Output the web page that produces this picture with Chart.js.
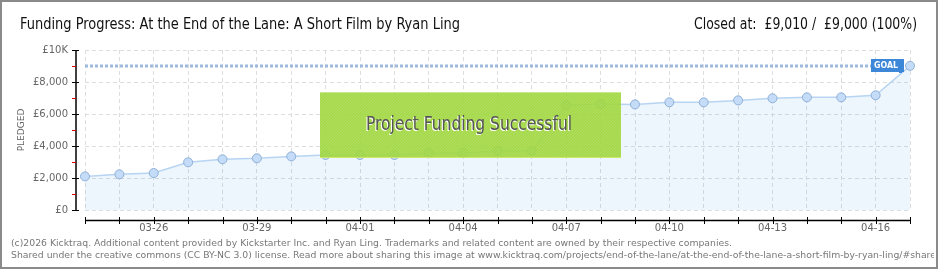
<!DOCTYPE html>
<html>
<head>
<meta charset="utf-8">
<script src="https://cdn.jsdelivr.net/npm/chart.js@4.4.1/dist/chart.umd.min.js"></script>
<style>
html,body{margin:0;padding:0;background:#fff;}
#wrap{width:940px;height:270px;position:relative;}
canvas{display:block;}
</style>
</head>
<body>
<div id="wrap"><canvas id="c" width="940" height="270"></canvas></div>
<script>
// ---- data ----
const categories = ['03-24','03-25','03-26','03-27','03-28','03-29','03-30','03-31','04-01','04-02','04-03','04-04','04-05','04-06','04-07','04-08','04-09','04-10','04-11','04-12','04-13','04-14','04-15','04-16','04-17'];
const pledged = [2100,2230,2310,2980,3170,3230,3350,3440,3440,3440,3570,3570,3690,3690,6560,6620,6600,6730,6730,6850,6980,7040,7040,7170,9010];
const goalValue = 9000;
const yTicks = [0,2000,4000,6000,8000,10000];
const yTickLabels = ['£0','£2,000','£4,000','£6,000','£8,000','£10K'];
const xTickLabels = ['03-26','03-29','04-01','04-04','04-07','04-10','04-13','04-16'];
const titleText = 'Funding Progress: At the End of the Lane: A Short Film by Ryan Ling';
const statusText = 'Closed at:  £9,010 /  £9,000 (100%)';
const bannerText = 'Project Funding Successful';
const footer1 = '(c)2026 Kicktraq. Additional content provided by Kickstarter Inc. and Ryan Ling. Trademarks and related content are owned by their respective companies.';
const footer2 = 'Shared under the creative commons (CC BY-NC 3.0) license. Read more about sharing this image at www.kicktraq.com/projects/end-of-the-lane/at-the-end-of-the-lane-a-short-film-by-ryan-ling/#share';

const NARROW = '"Liberation Sans Narrow","DejaVu Sans Condensed","Roboto Condensed",sans-serif';

function fitText(ctx, text, x, y, width, align){
  const w = ctx.measureText(text).width;
  const s = width / w;
  ctx.save();
  ctx.textAlign = 'left';
  let x0 = align === 'right' ? x - width : x;
  ctx.translate(x0, y);
  ctx.scale(s, 1);
  ctx.fillText(text, 0, 0);
  ctx.restore();
}

const decor = {
  id: 'decor',
  beforeDraw(chart){
    const ctx = chart.ctx;
    ctx.save();
    ctx.fillStyle = '#fff';
    ctx.fillRect(0,0,chart.width,chart.height);
    ctx.restore();
  },
  beforeDatasetsDraw(chart){
    const ctx = chart.ctx;
    const y = Math.round(chart.scales.y.getPixelForValue(goalValue));
    const x0 = chart.scales.x.getPixelForValue(0);
    ctx.save();
    ctx.strokeStyle = '#9db9dd';
    ctx.lineWidth = 3;
    ctx.setLineDash([3,2]);
    ctx.beginPath();
    ctx.moveTo(x0, y);
    ctx.lineTo(871, y);
    ctx.stroke();
    ctx.restore();
  },
  afterDatasetsDraw(chart){
    const ctx = chart.ctx;
    // success banner
    const bx = 320, by = 92, bw = 301, bh = 66;
    ctx.save();
    ctx.fillStyle = 'rgba(158,214,58,0.9)';
    ctx.fillRect(bx, by, bw, bh);
    ctx.beginPath();
    ctx.rect(bx, by, bw, bh);
    ctx.clip();
    ctx.strokeStyle = 'rgba(255,255,255,0.10)';
    ctx.lineWidth = 1;
    for (let k = -bh; k < bw; k += 3){
      ctx.beginPath();
      ctx.moveTo(bx + k, by + bh);
      ctx.lineTo(bx + k + bh, by);
      ctx.stroke();
    }
    ctx.restore();
    ctx.save();
    ctx.fillStyle = 'rgba(255,255,255,0.35)';
    ctx.fillRect(bx, by, bw, 1);
    ctx.fillStyle = 'rgba(230,240,120,0.6)';
    ctx.fillRect(bx, by + bh - 1, bw, 1);
    ctx.font = '20px ' + NARROW;
    ctx.textBaseline = 'middle';
    ctx.fillStyle = '#ffffff';
    fitText(ctx, bannerText, 365, 126, 206, 'left');
    ctx.fillStyle = '#555555';
    fitText(ctx, bannerText, 366, 125, 206, 'left');
    ctx.restore();

    // goal label
    ctx.save();
    ctx.fillStyle = '#3d87d8';
    ctx.fillRect(871, 59, 33, 13);
    ctx.fillRect(899, 72, 3, 1);
    ctx.fillStyle = '#fff';
    ctx.font = 'bold 9px "DejaVu Sans",sans-serif';
    ctx.textBaseline = 'middle';
    fitText(ctx, 'GOAL', 874, 66, 24, 'left');
    ctx.restore();
  },
  afterDraw(chart){
    const ctx = chart.ctx;
    const xs = chart.scales.x, ys = chart.scales.y;
    ctx.save();
    // y axis line
    ctx.strokeStyle = '#000';
    ctx.lineWidth = 1.5;
    ctx.beginPath();
    ctx.moveTo(76, ys.getPixelForValue(10000));
    ctx.lineTo(76, ys.getPixelForValue(0));
    ctx.stroke();
    for (let v = 0; v <= 10000; v += 1000){
      const py = Math.round(ys.getPixelForValue(v)) + 0.5;
      ctx.beginPath();
      if (v % 2000 === 0){
        ctx.strokeStyle = '#000';
        ctx.moveTo(72, py); ctx.lineTo(79, py);
      } else {
        ctx.strokeStyle = '#e00000';
        ctx.moveTo(72, py); ctx.lineTo(76, py);
      }
      ctx.lineWidth = 1;
      ctx.stroke();
    }
    // x axis line
    const ax = 220.5;
    ctx.strokeStyle = '#000';
    ctx.lineWidth = 1.5;
    ctx.beginPath();
    ctx.moveTo(xs.getPixelForValue(0), ax);
    ctx.lineTo(xs.getPixelForValue(categories.length - 1), ax);
    ctx.stroke();
    ctx.lineWidth = 1;
    for (let i = 0; i < categories.length; i++){
      const px = Math.round(xs.getPixelForValue(i)) + 0.5;
      ctx.beginPath();
      ctx.moveTo(px, 217); ctx.lineTo(px, 224);
      ctx.stroke();
    }
    // titles
    ctx.fillStyle = '#111';
    ctx.textBaseline = 'alphabetic';
    ctx.font = '15px ' + NARROW;
    fitText(ctx, titleText, 20, 29, 440, 'left');
    fitText(ctx, statusText, 917, 29, 223, 'right');
    // footer
    ctx.fillStyle = '#777';
    ctx.font = '9px "DejaVu Sans",Verdana,sans-serif';
    ctx.textBaseline = 'middle';
    fitText(ctx, footer1, 11, 244, 721, 'left');
    ctx.save();
    ctx.beginPath(); ctx.rect(0,0,934,270); ctx.clip();
    const w1 = ctx.measureText(footer1).width;
    const s = 721 / w1;
    ctx.translate(11, 256); ctx.scale(s,1);
    ctx.fillText(footer2, 0, 0);
    ctx.restore();
    // frame
    ctx.strokeStyle = '#8a8a8a';
    ctx.lineWidth = 2;
    ctx.strokeRect(1, 1, 936, 267);
    ctx.restore();
  }
};

new Chart(document.getElementById('c'), {
  type: 'line',
  data: {
    labels: categories,
    datasets: [{
      data: pledged,
      borderColor: '#b7d4f2',
      borderWidth: 1.5,
      backgroundColor: 'rgba(100,170,240,0.11)',
      fill: 'origin',
      tension: 0,
      pointRadius: 4.5,
      pointBackgroundColor: '#c4dcf7',
      pointBorderColor: '#8fb0d8',
      pointBorderWidth: 1
    }]
  },
  options: {
    responsive: false,
    animation: false,
    devicePixelRatio: 1,
    layout: { padding: { top: 50, right: 30, left: 0, bottom: 0 } },
    plugins: { legend: { display: false }, tooltip: { enabled: false }, title: { display: false } },
    scales: {
      x: {
        type: 'category',
        offset: false,
        afterFit(scale){ scale.height = 60; },
        grid: { color: '#dddddd', drawTicks: false, lineWidth: 1 },
        border: { display: false, dash: [4,3] },
        ticks: {
          autoSkip: false, maxRotation: 0, minRotation: 0, padding: 12,
          color: '#666', font: { family: '"DejaVu Sans",sans-serif', size: 10 },
          callback(value, index){ const l = categories[index]; return xTickLabels.includes(l) ? l : ''; }
        }
      },
      y: {
        min: 0, max: 10000,
        afterFit(scale){ scale.width = 85; },
        afterBuildTicks(scale){ scale.ticks = yTicks.map(v => ({ value: v })); },
        grid: { color: '#dddddd', drawTicks: false, lineWidth: 1 },
        border: { display: false, dash: [4,3] },
        ticks: {
          padding: 17, color: '#666', font: { family: '"DejaVu Sans",sans-serif', size: 10 },
          callback(value){ const i = yTicks.indexOf(value); return i >= 0 ? yTickLabels[i] : ''; }
        },
        title: { display: true, text: 'PLEDGED', color: '#666', font: { family: '"DejaVu Sans",sans-serif', size: 9 }, padding: { top: 16, bottom: 0 } }
      }
    }
  },
  plugins: [decor]
});
</script>
</body>
</html>
